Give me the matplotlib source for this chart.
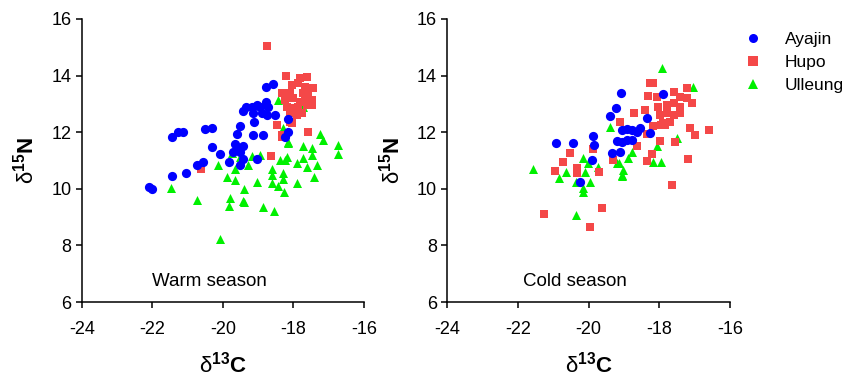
import matplotlib
matplotlib.use("Agg")
import matplotlib.pyplot as plt
from matplotlib.lines import Line2D

plt.rcParams['font.family'] = ['Liberation Sans', 'DejaVu Sans']
plt.rcParams['axes.unicode_minus'] = False
plt.rcParams['mathtext.fontset'] = 'custom'
plt.rcParams['mathtext.rm'] = 'Liberation Sans'
plt.rcParams['mathtext.bf'] = 'Liberation Sans:bold'
plt.rcParams['mathtext.it'] = 'Liberation Sans:italic'

# ---- Warm season ----
warm_ayajin_x = [-22.1, -22.0, -21.45, -21.04, -21.45, -21.26, -21.12, -20.51, -20.32,
                 -18.77, -18.59, -19.34, -19.42, -19.18, -19.04, -18.95, -18.78, -18.71,
                 -19.14, -18.90, -18.76, -18.52, -19.11, -19.51, -19.61, -19.14, -18.85,
                 -18.14, -18.14, -18.24, -20.32, -19.65, -19.42, -19.61, -19.51, -19.70,
                 -20.08, -19.42, -19.04, -19.84, -19.51, -20.57, -20.74]
warm_ayajin_y = [10.05, 10.0, 10.46, 10.55, 11.82, 12.0, 12.0, 12.10, 12.14,
                 13.61, 13.70, 12.90, 12.76, 12.90, 12.96, 12.90, 13.08, 12.90,
                 12.69, 12.67, 12.61, 12.61, 12.37, 12.22, 11.94, 11.90, 11.90,
                 12.46, 12.02, 11.84, 11.47, 11.58, 11.51, 11.36, 11.31, 11.31,
                 11.23, 11.04, 11.04, 10.94, 10.84, 10.96, 10.84]

warm_hupo_x = [-18.76, -20.63, -18.64, -17.59, -18.47, -18.33, -18.05, -18.21, -17.81,
               -17.62, -18.05, -17.86, -17.67, -17.44, -18.33, -18.10, -17.72, -17.58,
               -18.24, -18.00, -17.81, -17.67, -17.48, -18.19, -18.00, -17.86, -17.62,
               -17.48, -18.10, -17.91, -17.76, -18.10, -18.33]
warm_hupo_y = [15.05, 10.69, 11.17, 12.02, 12.25, 11.84, 12.31, 13.99, 13.90,
               13.96, 13.67, 13.73, 13.61, 13.55, 13.37, 13.37, 13.37, 13.31,
               13.14, 13.20, 13.08, 13.14, 13.14, 12.90, 12.84, 12.90, 12.96,
               12.96, 12.67, 12.61, 12.67, 12.37, 11.90]

warm_ulleung_x = [-17.25, -17.17, -17.72, -17.48, -17.48, -16.73, -16.73, -18.14, -18.19,
                  -18.38, -18.24, -17.91, -17.72, -17.62, -17.34, -17.42, -17.91, -18.29,
                  -18.29, -18.61, -18.61, -18.61, -18.43, -18.26, -18.95, -19.18, -19.28,
                  -19.65, -19.87, -19.65, -20.13, -19.75, -19.51, -19.02, -19.40, -19.42,
                  -19.80, -19.82, -18.87, -18.55, -20.74, -21.47, -20.08, -19.40, -18.43,
                  -17.72, -18.16, -18.29]
warm_ulleung_y = [11.94, 11.72, 11.51, 11.43, 11.19, 11.55, 11.23, 11.66, 11.11,
                  11.02, 11.02, 10.90, 11.08, 10.76, 10.84, 10.43, 10.22, 10.55,
                  10.34, 10.69, 10.49, 10.22, 10.10, 9.90, 11.19, 11.16, 10.84,
                  10.69, 10.43, 10.31, 10.84, 11.25, 11.13, 10.25, 9.98, 9.58,
                  9.66, 9.39, 9.37, 9.23, 9.60, 10.04, 8.22, 9.54, 13.14,
                  12.88, 11.61, 12.14]

# ---- Cold season ----
cold_ayajin_x = [-19.08, -17.90, -19.23, -19.39, -18.36, -19.06, -18.92, -18.78, -18.64,
                 -18.55, -18.26, -19.21, -19.06, -18.92, -18.78, -19.88, -19.84, -20.93,
                 -20.43, -19.35, -19.11, -19.91, -20.24]
cold_ayajin_y = [13.37, 13.34, 12.86, 12.56, 12.51, 12.08, 12.10, 12.08, 12.02,
                 12.14, 11.96, 11.70, 11.66, 11.72, 11.72, 11.87, 11.54, 11.61,
                 11.61, 11.25, 11.31, 11.02, 10.25]

cold_hupo_x = [-18.17, -18.26, -18.31, -18.07, -17.60, -17.22, -17.41, -17.22, -17.08,
               -18.03, -17.79, -17.60, -17.41, -17.98, -17.79, -17.60, -17.41, -17.89,
               -17.70, -18.17, -18.40, -18.73, -19.11, -17.13, -16.99, -16.61, -17.98,
               -17.55, -18.64, -18.36, -18.21, -18.36, -17.18, -19.87, -19.30, -20.53,
               -20.72, -20.95, -20.34, -20.34, -19.70, -17.65, -21.26, -19.61, -19.96,
               -17.95, -17.85]
cold_hupo_y = [13.73, 13.73, 13.29, 13.25, 13.43, 13.55, 13.25, 13.20, 13.02,
               12.90, 12.96, 13.02, 12.90, 12.61, 12.67, 12.61, 12.67, 12.31,
               12.37, 12.22, 12.78, 12.67, 12.37, 12.14, 11.90, 12.08, 11.70,
               11.66, 11.51, 11.93, 11.23, 10.99, 11.04, 11.40, 11.02, 11.25,
               10.96, 10.64, 10.72, 10.55, 10.60, 10.13, 9.10, 9.33, 8.65,
               12.25, 12.25]

cold_ulleung_x = [-17.93, -17.04, -19.41, -17.51, -18.07, -18.78, -18.88, -18.17, -17.95,
                  -19.13, -19.04, -19.06, -20.15, -20.01, -20.10, -19.96, -20.15, -19.75,
                  -20.64, -20.84, -21.57, -20.36, -20.36, -20.15, -19.06, -19.21]
cold_ulleung_y = [14.26, 13.61, 12.19, 11.78, 11.52, 11.31, 11.08, 10.94, 10.94,
                  10.90, 10.66, 10.49, 11.08, 10.90, 10.60, 10.25, 10.02, 10.78,
                  10.58, 10.37, 10.69, 10.25, 9.07, 9.90, 10.45, 10.90]

x_ticks = [-24, -22, -20, -18, -16]
y_ticks = [6, 8, 10, 12, 14, 16]
series_names = ["Ayajin", "Hupo", "Ulleung"]
season_titles = ["Warm season", "Cold season"]

colors = {"Ayajin": "#0000FF", "Hupo": "#F44848", "Ulleung": "#00F000"}
markers = {"Ayajin": "o", "Hupo": "s", "Ulleung": "^"}
sizes = {"Ayajin": 44, "Hupo": 40, "Ulleung": 42}

fig = plt.figure(figsize=(8.44, 3.79), dpi=100)
ax1 = fig.add_axes([0.0968, 0.203, 0.3345, 0.747])
ax2 = fig.add_axes([0.530, 0.203, 0.335, 0.747])

data = [
    {"Ayajin": (warm_ayajin_x, warm_ayajin_y), "Hupo": (warm_hupo_x, warm_hupo_y),
     "Ulleung": (warm_ulleung_x, warm_ulleung_y)},
    {"Ayajin": (cold_ayajin_x, cold_ayajin_y), "Hupo": (cold_hupo_x, cold_hupo_y),
     "Ulleung": (cold_ulleung_x, cold_ulleung_y)},
]
orders = [["Ulleung", "Hupo", "Ayajin"], ["Ulleung", "Hupo", "Ayajin"]]

for ax, d, title, order in zip([ax1, ax2], data, season_titles, orders):
    for name in order:
        xs, ys = d[name]
        ax.scatter(xs, ys, s=sizes[name], marker=markers[name], color=colors[name],
                   linewidths=0, zorder=3)
    ax.set_xlim(-24, -16)
    ax.set_ylim(6, 16)
    ax.set_xticks(x_ticks)
    ax.set_yticks(y_ticks)
    ax.set_xticklabels([str(t) for t in x_ticks])
    ax.set_yticklabels([str(t) for t in y_ticks])
    ax.spines['top'].set_visible(False)
    ax.spines['right'].set_visible(False)
    for s in ['left', 'bottom']:
        ax.spines[s].set_linewidth(1.1)
    ax.tick_params(direction='out', length=4.5, width=1.1, labelsize=13)
    ax.tick_params(axis='x', pad=9)
    ax.tick_params(axis='y', pad=3)
    ax.set_xlabel(r'$\mathrm{\delta}^{\mathbf{13}}\mathbf{C}$', fontsize=16, labelpad=10)
    ax.set_ylabel(r'$\mathrm{\delta}^{\mathbf{15}}\mathbf{N}$', fontsize=16, labelpad=9)
    ax.text(-22.0 if title.startswith("Warm") else -21.87, 6.72, title, fontsize=13.5,
            ha='left', va='center')

handles = [Line2D([0], [0], marker=markers[n], color='none', markerfacecolor=colors[n],
                  markeredgewidth=0, markersize=6.5, linestyle='None') for n in series_names]
fig.legend(handles, series_names, loc='upper left', bbox_to_anchor=(0.872, 0.935),
           frameon=False, fontsize=12.5, handletextpad=1.2, labelspacing=0.45,
           handlelength=1.2, borderaxespad=0)

fig.savefig("out.png", dpi=100)
